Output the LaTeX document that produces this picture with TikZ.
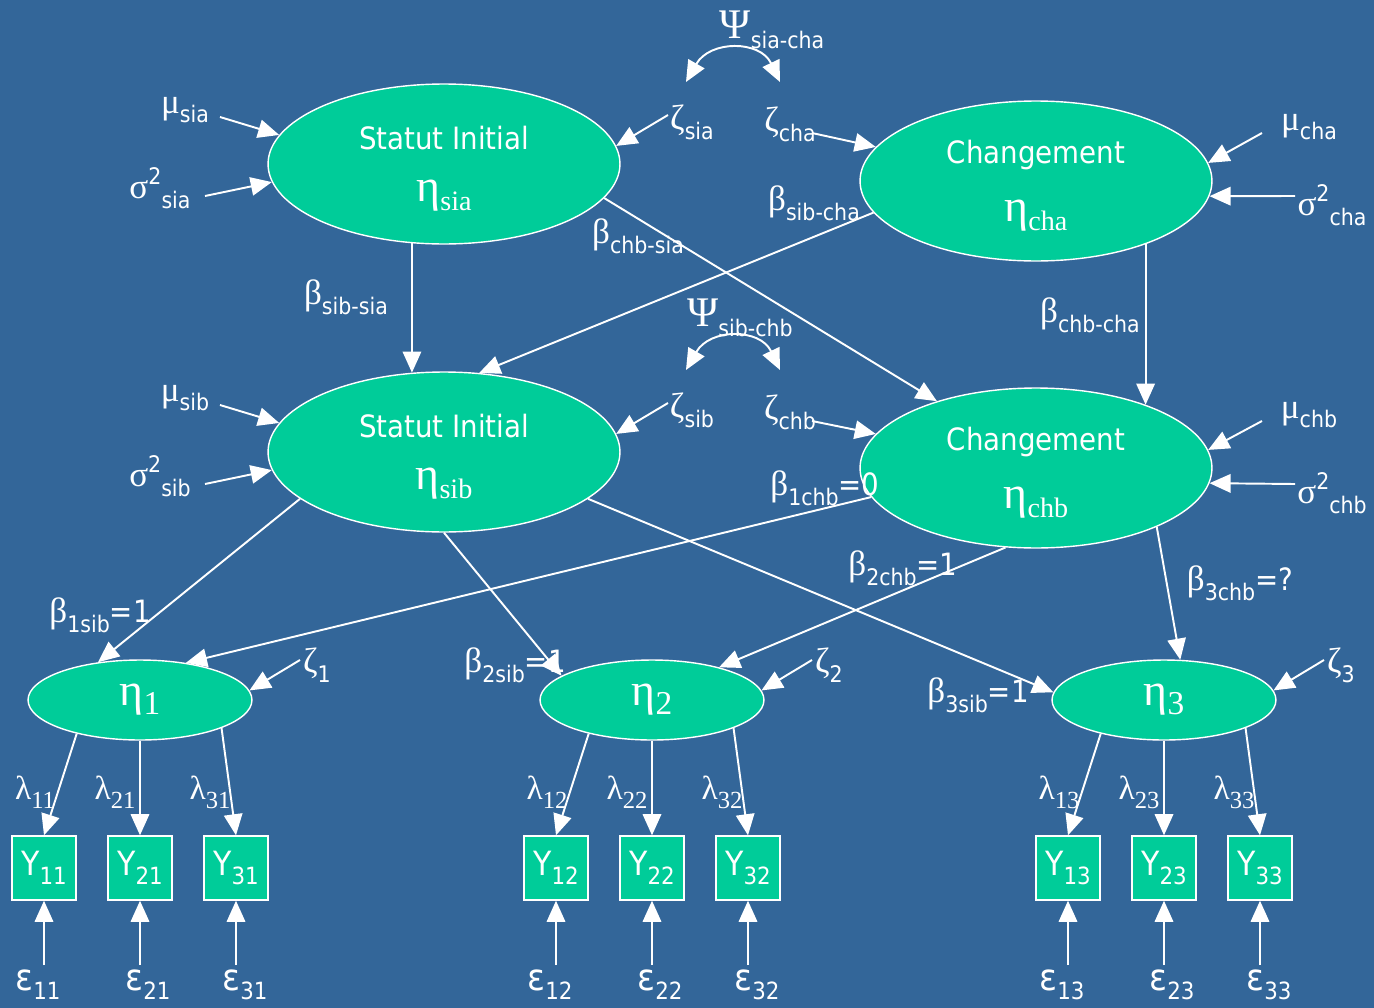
\documentclass[tikz,border=0pt]{standalone}
\usepackage{fontspec}
\setmainfont{DejaVu Sans}[FakeStretch=0.9]
\newfontfamily\grk{Liberation Serif}
\usetikzlibrary{shapes.geometric,arrows.meta}

\definecolor{bg}{RGB}{51,102,153}
\definecolor{lat}{RGB}{0,204,153}

% text helpers
\newcommand\gl[1]{{\grk\fontsize{20}{22}\selectfont #1}}
\newcommand\sbs[1]{\raisebox{-5.5pt}{\fontsize{13}{15}\selectfont #1}}
\newcommand\sps[1]{\raisebox{8pt}{\fontsize{13}{15}\selectfont #1}}
\newcommand\nrm{\fontsize{17.5}{20}\selectfont}
\newcommand\etabig[1]{{\grk\fontsize{26}{28}\selectfont η\raisebox{-5pt}{\fontsize{16}{18}\selectfont #1}}}
\newcommand\etasmall[1]{{\grk\fontsize{26}{28}\selectfont η\raisebox{-5pt}{\fontsize{19}{20}\selectfont #1}}}
\newcommand\lam[1]{{\grk\fontsize{19}{22}\selectfont λ\raisebox{-5pt}{\fontsize{14}{16}\selectfont #1}}}
\newcommand\eps[1]{{\fontsize{21}{22}\selectfont ε}\raisebox{-5pt}{\fontsize{13.5}{15}\selectfont #1}}
\newcommand\yy[1]{{\fontsize{19}{20}\selectfont Y}\raisebox{-5pt}{\fontsize{13.5}{14}\selectfont #1}}
\newcommand\lv[2]{\rule{0pt}{19pt}\nrm #1\\[16pt]\etabig{#2}}

\tikzset{
  big/.style={ellipse, draw=white, line width=0.8pt, fill=lat,
    minimum width=7.04cm, minimum height=3.2cm, inner sep=0pt,
    text=white, align=center},
  small/.style={ellipse, draw=white, line width=0.8pt, fill=lat,
    minimum width=4.48cm, minimum height=1.6cm, inner sep=0pt, text=white},
  obs/.style={rectangle, draw=white, line width=0.8pt, fill=lat,
    minimum size=1.28cm, inner sep=0pt, text=white},
  arr/.style={draw=white, line width=1.1pt, -{Triangle[length=12pt,width=10.5pt]}},
  dbl/.style={draw=white, line width=1.1pt,
    {Triangle[length=12pt,width=10.5pt]}-{Triangle[length=12pt,width=10.5pt]}},
  lbl/.style={text=white, inner sep=0pt},
}

\begin{document}
\begin{tikzpicture}[x=0.02cm, y=-0.02cm]
\fill[bg] (0,0) rectangle (1374,1008);
\useasboundingbox (0,0) rectangle (1374,1008);

% latent factors of the two processes
\node[big] (sia) at (444,164) {\lv{Statut Initial}{sia}};
\node[big] (cha) at (1036,181) {\lv{Changement}{cha}};
\node[big] (sib) at (444,452) {\lv{Statut Initial}{sib}};
\node[big] (chb) at (1036,468) {\lv{Changement}{chb}};

% occasions, indicators and errors
\foreach \i/\xc in {1/140,2/652,3/1164} {
  \node[small] (eta\i) at (\xc,700) {\etasmall{\i}};
  \foreach \j/\dx/\lx/\ex in {1/-96/-105/-102, 2/0/-25/8, 3/96/70/105} {
    \node[obs] (y\j\i) at ({\xc+\dx},868) {\yy{\j\i}};
    \coordinate (t\j\i) at ({\xc+\dx},965);
    \draw[arr] (t\j\i) -- (y\j\i.south);
    \node[lbl] (e\j\i) at ({\xc+\ex},985) {\eps{\j\i}};
    \node[lbl] (l\j\i) at ({\xc+\lx},792) {\lam{\j\i}};
  }
  \draw[arr] (eta\i.-152) -- (y1\i.north);
  \draw[arr] (eta\i.south) -- (y2\i.north);
  \draw[arr] (eta\i.-19) -- (y3\i.north);
  \coordinate (z\i) at ({\xc+160},660);
  \draw[arr] (z\i) -- (eta\i.5);
  \node[lbl] (zl\i) at ({\xc+177},665) {\gl{ζ}\sbs{\i}};
}

% structural paths
\draw[arr] (sia.-112) -- (sib.112);
\draw[arr] (sia.-12) -- (chb.146);
\draw[arr] (cha.191) -- (sib.66);
\draw[arr] (cha.-30) -- (chb.30);
\draw[arr] (sib.-162) -- (eta1.138);
\draw[arr] (sib.south) -- (eta2.165);
\draw[arr] (sib.-18) -- (eta3.176);
\draw[arr] (chb.190) -- (eta1.39);
\draw[arr] (chb.-111) -- (eta2.26);
\draw[arr] (chb.-26) -- (eta3.68);

% means, variances and disturbances
\coordinate (mua) at (220,117);  \draw[arr] (mua) -- (sia.170);
\coordinate (sga) at (205,196);  \draw[arr] (sga) -- (sia.186);
\coordinate (zsa) at (668,115);  \draw[arr] (zsa) -- (sia.6);
\coordinate (zca) at (812,133);  \draw[arr] (zca) -- (cha.168);
\coordinate (muc) at (1262,133); \draw[arr] (muc) -- (cha.6);
\coordinate (sgc) at (1295,196); \draw[arr] (sgc) -- (cha.-5);
\coordinate (mub) at (220,405);  \draw[arr] (mub) -- (sib.170);
\coordinate (sgb) at (205,484);  \draw[arr] (sgb) -- (sib.186);
\coordinate (zsb) at (668,403);  \draw[arr] (zsb) -- (sib.6);
\coordinate (zcb) at (812,421);  \draw[arr] (zcb) -- (chb.168);
\coordinate (mud) at (1262,421); \draw[arr] (mud) -- (chb.6);
\coordinate (sgd) at (1295,484); \draw[arr] (sgd) -- (chb.-5);

% covariances between disturbances
\coordinate (pa1) at (686,82);  \coordinate (pa2) at (780,82);
\draw[dbl] (pa1) .. controls (710,40) and (760,40) .. (pa2);
\coordinate (pb1) at (686,370); \coordinate (pb2) at (780,370);
\draw[dbl] (pb1) .. controls (710,328) and (760,328) .. (pb2);

% labels
\node[lbl] (psia) at (772,30) {{\grk\fontsize{24}{26}\selectfont Ψ}\sbs{sia-cha}};
\node[lbl] (psib) at (740,318) {{\grk\fontsize{24}{26}\selectfont Ψ}\sbs{sib-chb}};
\node[lbl] (lzsa) at (692,122) {\gl{ζ}\sbs{sia}};
\node[lbl] (lzca) at (790,124) {\gl{ζ}\sbs{cha}};
\node[lbl] (lzsb) at (692,410) {\gl{ζ}\sbs{sib}};
\node[lbl] (lzcb) at (790,412) {\gl{ζ}\sbs{chb}};
\node[lbl] (lmua) at (185,110) {\gl{μ}\sbs{sia}};
\node[lbl] (lsga) at (160,188) {\gl{σ}\sps{2}\sbs{sia}};
\node[lbl] (lmub) at (185,398) {\gl{μ}\sbs{sib}};
\node[lbl] (lsgb) at (160,476) {\gl{σ}\sps{2}\sbs{sib}};
\node[lbl] (lmuc) at (1309,127) {\gl{μ}\sbs{cha}};
\node[lbl] (lsgc) at (1332,205) {\gl{σ}\sps{2}\sbs{cha}};
\node[lbl] (lmud) at (1309,415) {\gl{μ}\sbs{chb}};
\node[lbl] (lsgd) at (1332,493) {\gl{σ}\sps{2}\sbs{chb}};

\node[lbl] (b1) at (346,297) {\gl{β}\sbs{sib-sia}};
\node[lbl] (b2) at (638,236) {\gl{β}\sbs{chb-sia}};
\node[lbl] (b3) at (814,203) {\gl{β}\sbs{sib-cha}};
\node[lbl] (b4) at (1090,315) {\gl{β}\sbs{chb-cha}};
\node[lbl] (b5) at (100,615) {\gl{β}\sbs{1sib}{\nrm =1}};
\node[lbl] (b6) at (515,665) {\gl{β}\sbs{2sib}{\nrm =1}};
\node[lbl] (b7) at (978,695) {\gl{β}\sbs{3sib}{\nrm =1}};
\node[lbl] (b8) at (825,488) {\gl{β}\sbs{1chb}{\nrm =0}};
\node[lbl] (b9) at (903,568) {\gl{β}\sbs{2chb}{\nrm =1}};
\node[lbl] (b10) at (1240,583) {\gl{β}\sbs{3chb}{\nrm =?}};
\end{tikzpicture}
\end{document}
